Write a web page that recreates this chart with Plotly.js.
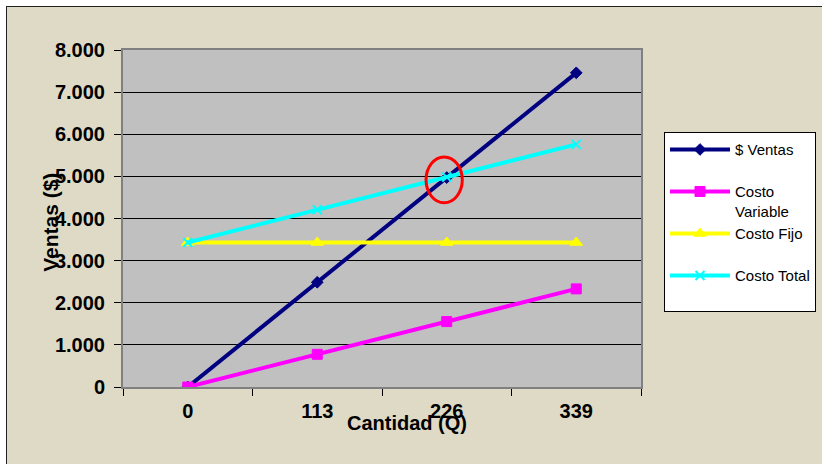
<!DOCTYPE html>
<html><head><meta charset="utf-8">
<script src="https://cdn.plot.ly/plotly-3.0.1.min.js"></script>
<style>
html,body{margin:0;padding:0;background:#ffffff;overflow:hidden;width:822px;height:464px;}
#wrap{position:absolute;left:6px;top:6px;width:840px;height:457px;border-left:1px solid #222;border-top:1px solid #222;}
#chart{width:840px;height:457px;}
</style></head>
<body><div id="wrap"><div id="chart"></div></div>
<script>
const cantidad = ["0", "113", "226", "339"];
const ventas = [0, 2486, 4972, 7458];
const costoVariable = [0, 776, 1553, 2329];
const costoFijo = [3430, 3430, 3430, 3430];
const costoTotal = [3430, 4206, 4983, 5759];
const seriesNames = ["$ Ventas<br>\u00a0", "Costo<br>Variable", "Costo Fijo<br>\u00a0", "Costo Total<br>\u00a0"];
const yTicks = [0, 1000, 2000, 3000, 4000, 5000, 6000, 7000, 8000];

const mk = (y, name, color, symbol, size, group) => ({
  type: 'scatter', mode: 'lines+markers', x: cantidad, y: y, name: name,
  legendgroup: group,
  line: {color: color, width: 4},
  marker: {color: color, symbol: symbol, size: size, line: {color: color, width: 1}}
});

const traces = [
  mk(ventas, seriesNames[0], '#000080', 'diamond', 9, 'a'),
  mk(costoVariable, seriesNames[1], '#FF00FF', 'square', 10, 'b'),
  mk(costoFijo, seriesNames[2], '#FFFF00', 'triangle-up', 11, 'c'),
  mk(costoTotal, seriesNames[3], '#00FFFF', 'x-thin', 9, 'd')
];
traces[3].marker.line = {color: '#00FFFF', width: 2};

// break-even highlight around Q = 226
const beIdx = 2;
const beY = (ventas[beIdx] + costoTotal[beIdx]) / 2 - 60;

const layout = {
  width: 840, height: 457,
  paper_bgcolor: '#DEDAC5', plot_bgcolor: '#C0C0C0',
  margin: {l: 116, r: 206, t: 43, b: 77, autoexpand: false},
  separators: ',.',
  font: {family: 'Liberation Sans, Arial, sans-serif', color: '#000'},
  showlegend: true,
  legend: {
    x: 1.0444, xanchor: 'left', y: 0.756, yanchor: 'top',
    bgcolor: '#FFFFFF', bordercolor: '#000000', borderwidth: 1,
    font: {size: 15, family: 'Liberation Sans, Arial, sans-serif'},
    tracegroupgap: 0, valign: 'top', itemwidth: 60, traceorder: 'grouped',
    entrywidth: 185, entrywidthmode: 'pixels'
  },
  xaxis: {
    type: 'category', range: [-0.5, 3.5], tickson: 'boundaries',
    ticks: 'outside', ticklen: 7, tickcolor: '#000', tickwidth: 1,
    showgrid: false, zeroline: false,
    showline: true, linecolor: '#808080', linewidth: 2, mirror: true,
    tickfont: {size: 20, family: 'Liberation Sans, Arial, sans-serif', weight: 'bold'},
    ticklabelstandoff: 5
  },
  yaxis: {
    range: [0, 8000], tickvals: yTicks, tickformat: ',d',
    ticks: 'outside', ticklen: 7, tickcolor: '#000', tickwidth: 1,
    showgrid: true, gridcolor: '#000000', gridwidth: 1, zeroline: false,
    showline: true, linecolor: '#808080', linewidth: 2, mirror: true,
    tickfont: {size: 20, family: 'Liberation Sans, Arial, sans-serif', weight: 'bold'},
    ticklabelstandoff: 5
  },
  shapes: [{
    type: 'circle', xref: 'x', yref: 'y',
    x0: beIdx - 0.16, x1: beIdx + 0.12, y0: beY - 545, y1: beY + 545,
    line: {color: '#FF0000', width: 3}, fillcolor: 'rgba(0,0,0,0)'
  }],
  annotations: [
    {text: 'Cantidad (Q)', xref: 'paper', yref: 'paper', x: 0.548, y: -0.108, xanchor: 'center', yanchor: 'middle',
     showarrow: false, font: {size: 20, weight: 'bold', family: 'Liberation Sans, Arial, sans-serif'}},
    {text: 'Ventas ($)', xref: 'paper', yref: 'paper', x: -0.139, y: 0.49, xanchor: 'center', yanchor: 'middle',
     textangle: -90, showarrow: false, font: {size: 21, weight: 'bold', family: 'Liberation Sans, Arial, sans-serif'}}
  ]
};

Plotly.newPlot('chart', traces, layout, {displayModeBar: false, staticPlot: true});
</script>
</body></html>
